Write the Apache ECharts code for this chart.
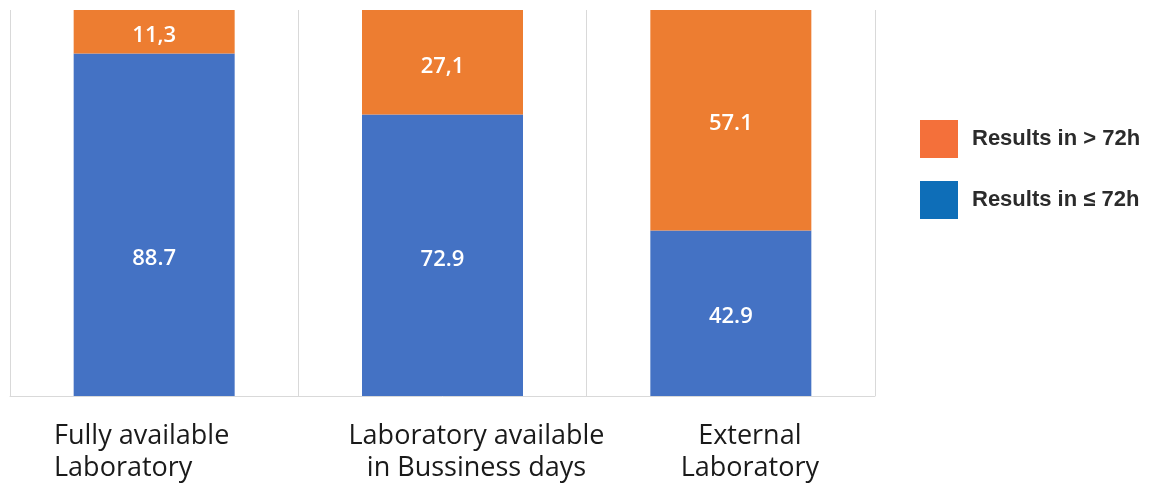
<!DOCTYPE html>
<html>
<head>
<meta charset="utf-8">
<script src="https://cdn.jsdelivr.net/npm/echarts@6/dist/echarts.min.js"></script>
<style>html,body{margin:0;padding:0;background:#fff}#c{width:1151px;height:490px}</style>
</head>
<body>
<div id="c"></div>
<script>
var categories = ['Fully available\nLaboratory', 'Laboratory available\nin Bussiness days', 'External\nLaboratory'];
var blueValues = [88.7, 72.9, 42.9];
var orangeValues = [11.3, 27.1, 57.1];
var blueLabels = ['88.7', '72.9', '42.9'];
var orangeLabels = ['11,3', '27,1', '57.1'];
var seriesNames = ['Results in > 72h', 'Results in \u2264 72h'];

var FONT = 'Liberation Sans';
var AXFONT = 'Open Sans';
var LBFONT = 'Open Sans';
var catPadding = [[0, 25, 0, 0], [0, 0, 0, 68], [0, 0, 0, 38]];

var labelStyle = {
  show: true,
  position: 'inside',
  color: '#fff',
  fontFamily: LBFONT,
  fontSize: 22,
  fontWeight: 600,
  offset: [0, 4]
};

var chart = echarts.init(document.getElementById('c'), null, {renderer: 'canvas'});
chart.setOption({
  animation: false,
  grid: {left: 10, right: 276, top: 10, bottom: 94},
  legend: {
    orient: 'vertical',
    left: 915,
    top: 115,
    itemWidth: 38,
    itemHeight: 38,
    itemGap: 23,
    icon: 'rect',
    selectedMode: false,
    textStyle: {fontFamily: FONT, fontSize: 22, fontWeight: 'bold', color: '#2b2b2b', padding: [0, 0, 0, 9]},
    data: [
      {name: seriesNames[0], itemStyle: {color: '#F4703A'}},
      {name: seriesNames[1], itemStyle: {color: '#0E6EB8'}}
    ]
  },
  xAxis: {
    type: 'category',
    data: categories.map(function (c, i) { return {value: c, textStyle: {padding: catPadding[i]}}; }),
    axisLine: {lineStyle: {color: '#d9d9d9', width: 1}},
    axisTick: {show: false},
    splitLine: {show: true, lineStyle: {color: '#d9d9d9', width: 1}},
    axisLabel: {
      interval: 0,
      margin: 24,
      fontFamily: AXFONT,
      fontSize: 27,
      lineHeight: 32,
      color: '#1a1a1a',
      formatter: function (v, i) {
        if (i === 0) {
          return v.split('\n').map(function (s) { return '{l|' + s + '}'; }).join('\n');
        }
        return v;
      },
      rich: {
        l: {align: 'left', fontFamily: AXFONT, fontSize: 27, lineHeight: 32, color: '#1a1a1a'}
      }
    }
  },
  yAxis: {
    type: 'value',
    min: 0,
    max: 100,
    show: false,
    splitLine: {show: false}
  },
  series: [
    {
      name: seriesNames[1],
      type: 'bar',
      stack: 'total',
      barWidth: 161,
      itemStyle: {color: '#4472C4'},
      label: Object.assign({}, labelStyle, {
        formatter: function (p) { return blueLabels[p.dataIndex]; }
      }),
      data: blueValues.map(function (v, i) {
        return i === 0 ? {value: v, label: {offset: [0, 34]}} : v;
      })
    },
    {
      name: seriesNames[0],
      type: 'bar',
      stack: 'total',
      barWidth: 161,
      itemStyle: {color: '#ED7D31'},
      label: Object.assign({}, labelStyle, {
        formatter: function (p) { return orangeLabels[p.dataIndex]; }
      }),
      data: orangeValues
    }
  ]
});
</script>
</body>
</html>
